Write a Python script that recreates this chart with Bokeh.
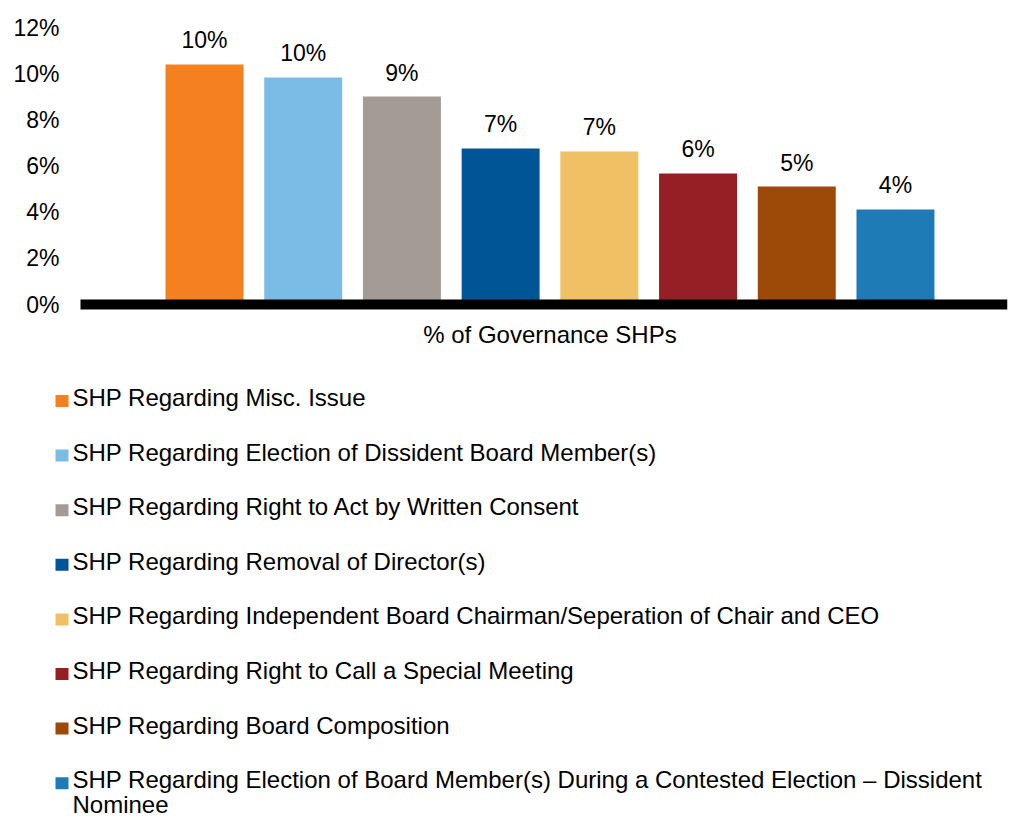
import textwrap
from bokeh.plotting import figure
from bokeh.models import Range1d, FixedTicker
from bokeh.core.properties import value
from bokeh.embed import file_html
from bokeh.resources import INLINE

# ---- data ----
categories = [
    "SHP Regarding Misc. Issue",
    "SHP Regarding Election of Dissident Board Member(s)",
    "SHP Regarding Right to Act by Written Consent",
    "SHP Regarding Removal of Director(s)",
    "SHP Regarding Independent Board Chairman/Seperation of Chair and CEO",
    "SHP Regarding Right to Call a Special Meeting",
    "SHP Regarding Board Composition",
    "SHP Regarding Election of Board Member(s) During a Contested Election \u2013 Dissident Nominee",
]
values = [10.40, 9.84, 9.01, 6.76, 6.63, 5.68, 5.11, 4.12]
colors = ["#F58020", "#7BBCE7", "#A39B96", "#005596",
          "#F0C064", "#961E25", "#9D4908", "#1F7BB6"]
group_label = "% of Governance SHPs"
y_ticks = [0, 2, 4, 6, 8, 10, 12]
y_tick_labels = ["0%", "2%", "4%", "6%", "8%", "10%", "12%"]

FONT = "Liberation Sans"

# ---- layout constants (page pixels) ----
W, H = 1010, 820
FRAME_L, FRAME_R, FRAME_T = 50, 1007, 16
PLOT_L = 80            # left end of the category axis line
PX_PER_X = 98.71       # pixels per bar slot
PX_PER_Y = 23.08       # pixels per percentage point
ZERO_Y = 304           # page row of 0%
FIRST_BAR_X = 204      # page column of the first bar centre

xs = [i + 1 for i in range(len(values))]
bar_labels = [f"{round(v)}%" for v in values]

x_start = xs[0] - (FIRST_BAR_X - FRAME_L) / PX_PER_X
x_end = x_start + (FRAME_R - FRAME_L) / PX_PER_X
y_end = (ZERO_Y - FRAME_T) / PX_PER_Y
y_start = -(H - ZERO_Y) / PX_PER_Y

p = figure(width=W, height=H,
           x_range=Range1d(x_start, x_end), y_range=Range1d(y_start, y_end),
           output_backend="svg", toolbar_location=None,
           min_border_left=FRAME_L, min_border_right=W - FRAME_R,
           min_border_top=FRAME_T, min_border_bottom=0)
# pixel-unit ranges for the axis base line and the legend block
p.extra_x_ranges = {"px": Range1d(FRAME_L, FRAME_R)}
p.extra_y_ranges = {"px": Range1d(H, FRAME_T)}

p.vbar(x=xs, top=values, width=0.79, color=colors, line_color=None)
p.segment(x0=[PLOT_L], y0=[0], x1=[FRAME_R], y1=[0], x_range_name="px",
          line_color="black", line_width=10, line_cap="butt")
p.text(x=xs, y=values, text=bar_labels, text_align="center", text_baseline="alphabetic",
       y_offset=-24, text_font=value(FONT), text_font_size="23px", text_color="#000000")
center = (xs[0] + xs[-1]) / 2
p.text(x=[center], y=[0], text=[group_label], text_align="center",
       text_baseline="alphabetic", y_offset=30, text_font=value(FONT),
       text_font_size="24px", text_color="#000000")

p.yaxis.ticker = FixedTicker(ticks=y_ticks)
p.yaxis.major_label_overrides = {t: l for t, l in zip(y_ticks, y_tick_labels)}
p.yaxis.axis_line_color = None
p.yaxis.major_tick_line_color = None
p.yaxis.minor_tick_line_color = None
p.yaxis.major_tick_out = 0
p.yaxis.major_tick_in = 0
p.yaxis.major_label_text_font = FONT
p.yaxis.major_label_text_color = "#000000"
p.yaxis.major_label_text_font_size = "23px"
p.yaxis.major_label_standoff = -(59 - FRAME_L)
p.xaxis.visible = False
p.grid.visible = False
p.outline_line_color = None

# ---- legend ----
LEG_TOP, LEG_STEP, LINE_STEP = 397, 54.6, 25
sq_x, sq_y = [], []
tx, ty, tt = [], [], []
for i, cat in enumerate(categories):
    row_y = LEG_TOP + i * LEG_STEP
    sq_x.append(61.5)
    sq_y.append(row_y + 3.5)
    for j, line in enumerate(textwrap.wrap(cat, 81)):
        tx.append(72)
        ty.append(row_y + j * LINE_STEP)
        tt.append(line)
p.rect(x=sq_x, y=sq_y, width=13, height=12, color=colors, line_color=None,
       x_range_name="px", y_range_name="px")
p.text(x=tx, y=ty, text=tt, text_baseline="alphabetic", text_align="left",
       x_range_name="px", y_range_name="px",
       text_font=value(FONT), text_font_size="24px", text_color="#000000")

open("out.html", "w").write(file_html(p, INLINE))
